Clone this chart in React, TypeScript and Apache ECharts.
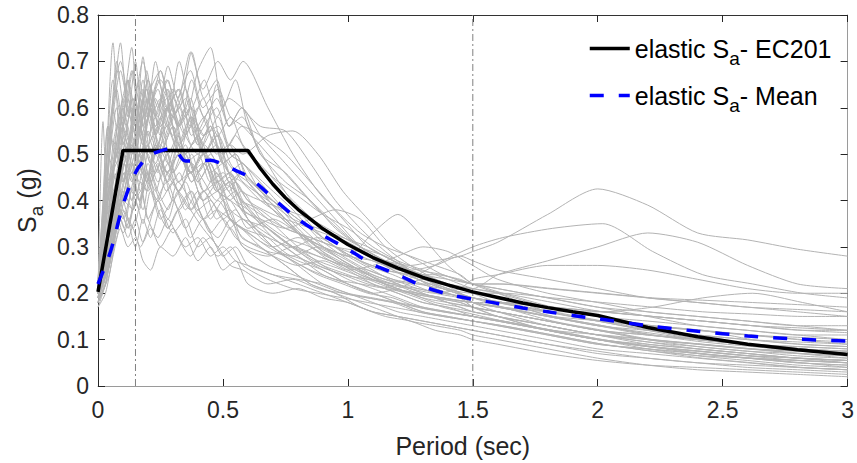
import React, { useEffect, useRef } from "react";
import * as echarts from "echarts";

// Period grids for the recorded spectra (s); records alternate between them
const recordPeriodsA = [0, 0.03, 0.06, 0.09, 0.12, 0.15, 0.18, 0.21, 0.25, 0.3, 0.35, 0.4, 0.45, 0.5, 0.55, 0.6, 0.7, 0.8, 0.9, 1.0, 1.1, 1.2, 1.3, 1.4, 1.5, 1.6, 1.8, 2.0, 2.2, 2.4, 2.6, 2.8, 3.0];
const recordPeriodsB = [0, 0.045, 0.075, 0.105, 0.135, 0.165, 0.195, 0.23, 0.275, 0.325, 0.375, 0.425, 0.475, 0.525, 0.575, 0.65, 0.75, 0.85, 0.95, 1.05, 1.15, 1.25, 1.35, 1.45, 1.5, 1.6, 1.8, 2.0, 2.2, 2.4, 2.6, 2.8, 3.0];
const recordPeriodsC = [0, 0.02, 0.04, 0.075, 0.1, 0.14, 0.17, 0.2, 0.24, 0.28, 0.32, 0.37, 0.42, 0.48, 0.53, 0.58, 0.68, 0.78, 0.88, 0.98, 1.08, 1.18, 1.28, 1.38, 1.5, 1.62, 1.82, 2.02, 2.22, 2.42, 2.62, 2.82, 3.0];
const recordGrids = [recordPeriodsA, recordPeriodsB, recordPeriodsC];

// Individual record spectra Sa (g)
const recordSpectra: number[][] = [
  [0.21, 0.45, 0.74, 0.52, 0.66, 0.48, 0.6, 0.5, 0.58, 0.46, 0.52, 0.44, 0.48, 0.4, 0.42, 0.36, 0.32, 0.28, 0.24, 0.22, 0.2, 0.18, 0.16, 0.15, 0.14, 0.13, 0.11, 0.09, 0.08, 0.07, 0.06, 0.05, 0.045],
  [0.19, 0.35, 0.55, 0.62, 0.73, 0.55, 0.68, 0.58, 0.64, 0.56, 0.6, 0.5, 0.55, 0.46, 0.44, 0.4, 0.36, 0.3, 0.27, 0.25, 0.22, 0.2, 0.18, 0.17, 0.16, 0.15, 0.12, 0.1, 0.085, 0.075, 0.065, 0.06, 0.055],
  [0.22, 0.3, 0.42, 0.5, 0.56, 0.62, 0.58, 0.66, 0.6, 0.69, 0.62, 0.72, 0.64, 0.7, 0.66, 0.7, 0.6, 0.5, 0.42, 0.36, 0.3, 0.27, 0.24, 0.21, 0.19, 0.17, 0.14, 0.12, 0.1, 0.09, 0.08, 0.07, 0.065],
  [0.17, 0.2, 0.28, 0.34, 0.3, 0.32, 0.27, 0.25, 0.3, 0.28, 0.32, 0.27, 0.3, 0.25, 0.27, 0.22, 0.2, 0.21, 0.19, 0.18, 0.16, 0.15, 0.14, 0.13, 0.12, 0.11, 0.09, 0.07, 0.06, 0.05, 0.04, 0.035, 0.03],
  [0.2, 0.28, 0.4, 0.46, 0.42, 0.5, 0.44, 0.52, 0.46, 0.5, 0.44, 0.48, 0.42, 0.45, 0.4, 0.38, 0.34, 0.32, 0.3, 0.29, 0.27, 0.26, 0.27, 0.28, 0.29, 0.31, 0.37, 0.425, 0.39, 0.33, 0.315, 0.295, 0.28],
  [0.2, 0.32, 0.5, 0.44, 0.6, 0.5, 0.56, 0.46, 0.52, 0.48, 0.54, 0.46, 0.5, 0.42, 0.4, 0.36, 0.32, 0.28, 0.3, 0.27, 0.24, 0.22, 0.24, 0.27, 0.3, 0.32, 0.34, 0.35, 0.29, 0.24, 0.22, 0.2, 0.19],
  [0.21, 0.3, 0.46, 0.56, 0.5, 0.62, 0.54, 0.6, 0.5, 0.56, 0.48, 0.5, 0.44, 0.46, 0.4, 0.36, 0.3, 0.27, 0.25, 0.22, 0.2, 0.21, 0.23, 0.22, 0.21, 0.24, 0.27, 0.3, 0.33, 0.31, 0.26, 0.22, 0.21],
  [0.2, 0.26, 0.38, 0.48, 0.44, 0.56, 0.5, 0.62, 0.56, 0.7, 0.6, 0.66, 0.58, 0.62, 0.6, 0.56, 0.55, 0.48, 0.4, 0.34, 0.29, 0.25, 0.22, 0.2, 0.18, 0.16, 0.13, 0.11, 0.09, 0.08, 0.07, 0.06, 0.05],
  [0.19, 0.24, 0.3, 0.36, 0.4, 0.38, 0.44, 0.42, 0.48, 0.44, 0.5, 0.46, 0.5, 0.48, 0.52, 0.5, 0.54, 0.55, 0.5, 0.42, 0.36, 0.3, 0.27, 0.24, 0.22, 0.2, 0.17, 0.15, 0.13, 0.12, 0.1, 0.09, 0.085],
  [0.18, 0.22, 0.3, 0.38, 0.34, 0.42, 0.38, 0.46, 0.4, 0.44, 0.38, 0.42, 0.36, 0.4, 0.35, 0.33, 0.3, 0.32, 0.3, 0.28, 0.33, 0.37, 0.32, 0.26, 0.22, 0.2, 0.16, 0.14, 0.12, 0.1, 0.09, 0.08, 0.075],
  [0.2, 0.27, 0.36, 0.44, 0.52, 0.46, 0.55, 0.5, 0.6, 0.52, 0.56, 0.5, 0.54, 0.46, 0.48, 0.42, 0.38, 0.34, 0.3, 0.27, 0.25, 0.24, 0.22, 0.2, 0.19, 0.18, 0.16, 0.14, 0.13, 0.12, 0.11, 0.105, 0.1],
  [0.18, 0.22, 0.3, 0.36, 0.42, 0.38, 0.44, 0.36, 0.4, 0.34, 0.38, 0.32, 0.36, 0.3, 0.34, 0.3, 0.26, 0.24, 0.22, 0.2, 0.19, 0.18, 0.17, 0.16, 0.15, 0.14, 0.12, 0.1, 0.085, 0.07, 0.06, 0.05, 0.04],
  [0.22, 0.4, 0.6, 0.5, 0.66, 0.56, 0.71, 0.6, 0.68, 0.58, 0.64, 0.55, 0.6, 0.5, 0.46, 0.44, 0.38, 0.33, 0.28, 0.25, 0.22, 0.2, 0.18, 0.17, 0.15, 0.14, 0.12, 0.1, 0.085, 0.075, 0.065, 0.055, 0.05],
  [0.2, 0.3, 0.44, 0.52, 0.6, 0.54, 0.62, 0.56, 0.66, 0.6, 0.72, 0.62, 0.66, 0.56, 0.58, 0.5, 0.44, 0.4, 0.34, 0.3, 0.27, 0.24, 0.21, 0.19, 0.17, 0.16, 0.14, 0.12, 0.11, 0.1, 0.09, 0.08, 0.075],
  [0.21, 0.28, 0.38, 0.46, 0.4, 0.48, 0.42, 0.5, 0.44, 0.48, 0.42, 0.46, 0.4, 0.44, 0.38, 0.36, 0.34, 0.3, 0.28, 0.26, 0.25, 0.23, 0.22, 0.21, 0.2, 0.2, 0.19, 0.18, 0.17, 0.16, 0.155, 0.15, 0.15],
  [0.17, 0.22, 0.32, 0.38, 0.34, 0.4, 0.35, 0.42, 0.36, 0.4, 0.34, 0.38, 0.33, 0.36, 0.32, 0.3, 0.28, 0.26, 0.27, 0.25, 0.26, 0.28, 0.3, 0.29, 0.26, 0.23, 0.2, 0.18, 0.16, 0.15, 0.14, 0.13, 0.13],
  [0.23, 0.5, 0.7, 0.6, 0.68, 0.58, 0.64, 0.54, 0.6, 0.5, 0.48, 0.42, 0.44, 0.36, 0.34, 0.3, 0.26, 0.22, 0.2, 0.17, 0.15, 0.14, 0.12, 0.11, 0.1, 0.09, 0.07, 0.055, 0.045, 0.04, 0.035, 0.03, 0.025],
  [0.2, 0.3, 0.42, 0.5, 0.58, 0.5, 0.56, 0.62, 0.52, 0.6, 0.52, 0.58, 0.5, 0.54, 0.48, 0.44, 0.4, 0.36, 0.34, 0.32, 0.3, 0.27, 0.25, 0.24, 0.22, 0.22, 0.21, 0.2, 0.19, 0.185, 0.18, 0.175, 0.17],
  [0.19, 0.24, 0.34, 0.42, 0.36, 0.3, 0.36, 0.32, 0.38, 0.33, 0.36, 0.3, 0.32, 0.28, 0.3, 0.26, 0.24, 0.22, 0.2, 0.18, 0.16, 0.15, 0.14, 0.13, 0.12, 0.11, 0.09, 0.075, 0.06, 0.05, 0.045, 0.04, 0.035],
  [0.2, 0.26, 0.36, 0.42, 0.48, 0.44, 0.52, 0.48, 0.56, 0.5, 0.58, 0.54, 0.65, 0.56, 0.6, 0.5, 0.46, 0.4, 0.35, 0.3, 0.28, 0.25, 0.22, 0.2, 0.18, 0.17, 0.15, 0.13, 0.11, 0.1, 0.09, 0.085, 0.08],
  [0.2, 0.57, 0.4, 0.5, 0.44, 0.56, 0.48, 0.52, 0.46, 0.5, 0.44, 0.46, 0.4, 0.42, 0.36, 0.34, 0.3, 0.27, 0.24, 0.22, 0.2, 0.19, 0.17, 0.16, 0.15, 0.14, 0.12, 0.11, 0.1, 0.09, 0.08, 0.075, 0.07],
  [0.21, 0.34, 0.5, 0.58, 0.52, 0.6, 0.56, 0.64, 0.68, 0.58, 0.62, 0.52, 0.56, 0.48, 0.5, 0.44, 0.38, 0.33, 0.3, 0.27, 0.24, 0.22, 0.2, 0.18, 0.17, 0.16, 0.14, 0.12, 0.1, 0.09, 0.08, 0.07, 0.06],
  [0.2, 0.26, 0.36, 0.42, 0.48, 0.4, 0.46, 0.42, 0.5, 0.44, 0.5, 0.42, 0.46, 0.4, 0.42, 0.36, 0.32, 0.3, 0.27, 0.24, 0.22, 0.21, 0.2, 0.21, 0.23, 0.24, 0.26, 0.26, 0.25, 0.23, 0.21, 0.2, 0.2],
  [0.18, 0.21, 0.26, 0.32, 0.38, 0.34, 0.3, 0.34, 0.4, 0.36, 0.42, 0.38, 0.34, 0.3, 0.26, 0.25, 0.22, 0.23, 0.21, 0.2, 0.19, 0.18, 0.16, 0.15, 0.14, 0.13, 0.11, 0.09, 0.075, 0.065, 0.06, 0.055, 0.05],
  [0.21, 0.3, 0.46, 0.54, 0.5, 0.58, 0.52, 0.6, 0.56, 0.64, 0.58, 0.68, 0.73, 0.6, 0.66, 0.56, 0.46, 0.38, 0.32, 0.28, 0.25, 0.22, 0.2, 0.18, 0.16, 0.15, 0.13, 0.11, 0.095, 0.085, 0.075, 0.07, 0.065],
  [0.19, 0.26, 0.38, 0.46, 0.4, 0.5, 0.44, 0.52, 0.46, 0.5, 0.44, 0.48, 0.42, 0.44, 0.38, 0.36, 0.34, 0.36, 0.38, 0.36, 0.3, 0.26, 0.23, 0.2, 0.18, 0.17, 0.15, 0.13, 0.12, 0.11, 0.1, 0.095, 0.09],
  [0.2, 0.28, 0.4, 0.48, 0.44, 0.52, 0.48, 0.55, 0.5, 0.46, 0.52, 0.46, 0.48, 0.42, 0.4, 0.38, 0.34, 0.3, 0.26, 0.24, 0.22, 0.21, 0.2, 0.19, 0.18, 0.18, 0.17, 0.16, 0.15, 0.14, 0.13, 0.125, 0.12],
  [0.22, 0.42, 0.6, 0.74, 0.58, 0.7, 0.56, 0.64, 0.54, 0.6, 0.5, 0.54, 0.46, 0.48, 0.42, 0.38, 0.32, 0.28, 0.25, 0.22, 0.2, 0.18, 0.16, 0.15, 0.14, 0.13, 0.11, 0.09, 0.08, 0.07, 0.06, 0.055, 0.05],
  [0.19, 0.3, 0.42, 0.48, 0.4, 0.46, 0.42, 0.48, 0.42, 0.46, 0.38, 0.42, 0.36, 0.38, 0.32, 0.3, 0.26, 0.22, 0.2, 0.18, 0.16, 0.14, 0.13, 0.12, 0.11, 0.1, 0.08, 0.06, 0.045, 0.035, 0.03, 0.025, 0.02],
  [0.2, 0.3, 0.44, 0.5, 0.56, 0.5, 0.58, 0.52, 0.56, 0.5, 0.54, 0.46, 0.5, 0.44, 0.46, 0.4, 0.34, 0.3, 0.27, 0.25, 0.23, 0.21, 0.2, 0.19, 0.18, 0.17, 0.16, 0.16, 0.17, 0.19, 0.2, 0.18, 0.16],
  [0.2, 0.3, 0.48, 0.56, 0.62, 0.56, 0.66, 0.58, 0.62, 0.54, 0.6, 0.52, 0.56, 0.48, 0.5, 0.45, 0.4, 0.34, 0.29, 0.26, 0.23, 0.21, 0.19, 0.18, 0.17, 0.15, 0.13, 0.11, 0.1, 0.09, 0.08, 0.075, 0.07],
  [0.18, 0.24, 0.34, 0.4, 0.46, 0.4, 0.44, 0.5, 0.44, 0.52, 0.46, 0.5, 0.44, 0.46, 0.42, 0.4, 0.38, 0.36, 0.33, 0.3, 0.27, 0.25, 0.23, 0.21, 0.2, 0.18, 0.16, 0.14, 0.12, 0.11, 0.1, 0.09, 0.085],
  [0.21, 0.36, 0.52, 0.64, 0.56, 0.68, 0.6, 0.66, 0.58, 0.64, 0.56, 0.6, 0.54, 0.56, 0.5, 0.48, 0.42, 0.36, 0.31, 0.27, 0.24, 0.21, 0.19, 0.17, 0.155, 0.14, 0.12, 0.1, 0.085, 0.075, 0.065, 0.06, 0.055],
  [0.19, 0.25, 0.34, 0.44, 0.5, 0.44, 0.5, 0.44, 0.48, 0.4, 0.44, 0.38, 0.4, 0.36, 0.38, 0.34, 0.36, 0.33, 0.3, 0.28, 0.27, 0.25, 0.24, 0.22, 0.2, 0.19, 0.17, 0.15, 0.14, 0.13, 0.12, 0.11, 0.11],
  [0.2, 0.33, 0.46, 0.54, 0.48, 0.58, 0.64, 0.56, 0.6, 0.52, 0.58, 0.5, 0.52, 0.44, 0.46, 0.42, 0.36, 0.31, 0.28, 0.25, 0.23, 0.22, 0.2, 0.19, 0.18, 0.17, 0.15, 0.13, 0.115, 0.1, 0.09, 0.08, 0.075],
  [0.22, 0.38, 0.56, 0.48, 0.6, 0.52, 0.62, 0.54, 0.6, 0.66, 0.56, 0.62, 0.52, 0.58, 0.5, 0.48, 0.43, 0.38, 0.32, 0.28, 0.25, 0.23, 0.21, 0.2, 0.19, 0.18, 0.16, 0.14, 0.12, 0.1, 0.09, 0.08, 0.07],
  [0.19, 0.26, 0.4, 0.46, 0.52, 0.46, 0.54, 0.48, 0.52, 0.46, 0.5, 0.44, 0.48, 0.42, 0.44, 0.4, 0.37, 0.35, 0.33, 0.31, 0.28, 0.26, 0.24, 0.23, 0.22, 0.21, 0.19, 0.17, 0.15, 0.13, 0.12, 0.11, 0.1],
  [0.2, 0.28, 0.38, 0.34, 0.42, 0.38, 0.46, 0.4, 0.44, 0.38, 0.42, 0.36, 0.38, 0.34, 0.36, 0.32, 0.28, 0.25, 0.23, 0.22, 0.21, 0.2, 0.19, 0.18, 0.17, 0.16, 0.14, 0.12, 0.1, 0.085, 0.075, 0.065, 0.06],
  [0.21, 0.32, 0.46, 0.6, 0.52, 0.62, 0.54, 0.58, 0.66, 0.6, 0.64, 0.56, 0.62, 0.54, 0.58, 0.52, 0.46, 0.4, 0.35, 0.31, 0.28, 0.25, 0.23, 0.21, 0.19, 0.18, 0.15, 0.13, 0.11, 0.1, 0.09, 0.08, 0.07],
  [0.18, 0.22, 0.3, 0.36, 0.32, 0.36, 0.31, 0.34, 0.3, 0.34, 0.3, 0.32, 0.28, 0.3, 0.27, 0.26, 0.24, 0.23, 0.22, 0.2, 0.19, 0.18, 0.17, 0.16, 0.15, 0.14, 0.12, 0.1, 0.085, 0.07, 0.06, 0.05, 0.045],
  [0.2, 0.34, 0.5, 0.44, 0.58, 0.66, 0.58, 0.7, 0.6, 0.64, 0.54, 0.58, 0.5, 0.52, 0.46, 0.42, 0.36, 0.31, 0.27, 0.24, 0.22, 0.2, 0.19, 0.18, 0.17, 0.16, 0.14, 0.12, 0.11, 0.1, 0.09, 0.085, 0.08],
  [0.19, 0.28, 0.44, 0.38, 0.5, 0.44, 0.4, 0.48, 0.42, 0.38, 0.44, 0.4, 0.36, 0.4, 0.36, 0.32, 0.29, 0.28, 0.26, 0.24, 0.23, 0.22, 0.2, 0.19, 0.18, 0.17, 0.15, 0.14, 0.13, 0.12, 0.11, 0.1, 0.095],
  [0.22, 0.44, 0.66, 0.58, 0.52, 0.62, 0.7, 0.62, 0.56, 0.62, 0.54, 0.5, 0.56, 0.48, 0.44, 0.4, 0.35, 0.3, 0.26, 0.23, 0.21, 0.19, 0.17, 0.16, 0.15, 0.14, 0.12, 0.1, 0.09, 0.08, 0.07, 0.06, 0.055],
  [0.2, 0.26, 0.34, 0.42, 0.5, 0.56, 0.5, 0.46, 0.54, 0.6, 0.52, 0.56, 0.6, 0.52, 0.56, 0.54, 0.5, 0.44, 0.38, 0.33, 0.3, 0.28, 0.26, 0.24, 0.22, 0.21, 0.19, 0.17, 0.16, 0.15, 0.14, 0.13, 0.12],
  [0.18, 0.24, 0.36, 0.44, 0.38, 0.34, 0.4, 0.46, 0.38, 0.34, 0.38, 0.42, 0.36, 0.32, 0.36, 0.3, 0.28, 0.3, 0.28, 0.26, 0.24, 0.22, 0.21, 0.2, 0.19, 0.18, 0.17, 0.16, 0.15, 0.14, 0.13, 0.12, 0.115],
  [0.21, 0.38, 0.58, 0.68, 0.6, 0.54, 0.62, 0.56, 0.5, 0.56, 0.5, 0.46, 0.5, 0.44, 0.4, 0.38, 0.33, 0.29, 0.26, 0.24, 0.22, 0.2, 0.18, 0.17, 0.16, 0.15, 0.13, 0.11, 0.095, 0.08, 0.07, 0.06, 0.055],
  [0.2, 0.3, 0.42, 0.5, 0.46, 0.54, 0.6, 0.54, 0.62, 0.56, 0.66, 0.58, 0.62, 0.56, 0.6, 0.54, 0.48, 0.42, 0.36, 0.3, 0.26, 0.23, 0.21, 0.19, 0.17, 0.15, 0.12, 0.1, 0.08, 0.065, 0.055, 0.045, 0.04],
  [0.19, 0.25, 0.33, 0.4, 0.36, 0.44, 0.5, 0.44, 0.4, 0.46, 0.42, 0.38, 0.42, 0.38, 0.36, 0.34, 0.32, 0.3, 0.32, 0.29, 0.26, 0.24, 0.22, 0.22, 0.21, 0.2, 0.18, 0.16, 0.15, 0.14, 0.13, 0.12, 0.12],
  [0.23, 0.46, 0.62, 0.7, 0.62, 0.56, 0.64, 0.58, 0.52, 0.58, 0.5, 0.54, 0.48, 0.44, 0.42, 0.36, 0.3, 0.26, 0.22, 0.2, 0.18, 0.16, 0.15, 0.14, 0.13, 0.12, 0.1, 0.08, 0.07, 0.06, 0.05, 0.04, 0.035],
  [0.2, 0.27, 0.37, 0.45, 0.52, 0.48, 0.44, 0.5, 0.56, 0.5, 0.46, 0.52, 0.48, 0.42, 0.46, 0.42, 0.38, 0.34, 0.3, 0.27, 0.25, 0.24, 0.24, 0.23, 0.22, 0.22, 0.21, 0.2, 0.19, 0.18, 0.17, 0.16, 0.15],
  [0.18, 0.23, 0.31, 0.37, 0.33, 0.38, 0.42, 0.36, 0.32, 0.36, 0.32, 0.28, 0.32, 0.28, 0.3, 0.26, 0.23, 0.21, 0.2, 0.19, 0.18, 0.17, 0.16, 0.15, 0.14, 0.13, 0.11, 0.09, 0.075, 0.06, 0.05, 0.04, 0.035],
  [0.21, 0.35, 0.52, 0.6, 0.66, 0.58, 0.52, 0.6, 0.66, 0.6, 0.54, 0.6, 0.54, 0.5, 0.54, 0.5, 0.45, 0.41, 0.37, 0.34, 0.3, 0.27, 0.25, 0.23, 0.21, 0.2, 0.17, 0.15, 0.13, 0.12, 0.11, 0.1, 0.09],
  [0.2, 0.29, 0.4, 0.48, 0.54, 0.48, 0.44, 0.52, 0.46, 0.42, 0.48, 0.44, 0.4, 0.44, 0.4, 0.37, 0.34, 0.32, 0.3, 0.28, 0.26, 0.25, 0.26, 0.28, 0.27, 0.25, 0.23, 0.21, 0.19, 0.18, 0.17, 0.165, 0.16],
  [0.22, 0.4, 0.56, 0.5, 0.62, 0.56, 0.5, 0.58, 0.64, 0.56, 0.62, 0.68, 0.6, 0.64, 0.58, 0.56, 0.5, 0.44, 0.38, 0.33, 0.29, 0.26, 0.23, 0.21, 0.19, 0.18, 0.15, 0.13, 0.11, 0.095, 0.085, 0.075, 0.07],
];

// EC8 elastic design spectrum
const ec8Periods = [0, 0.1, 0.6, 0.65, 0.7, 0.75, 0.8, 0.9, 1.0, 1.1, 1.2, 1.3, 1.4, 1.5, 1.6, 1.7, 1.8, 1.9, 2.0, 2.2, 2.4, 2.6, 2.8, 3.0];
const ec8Values = [0.203, 0.508, 0.508, 0.469, 0.435, 0.406, 0.381, 0.339, 0.305, 0.277, 0.254, 0.234, 0.218, 0.203, 0.191, 0.179, 0.169, 0.16, 0.152, 0.126, 0.106, 0.09, 0.078, 0.068];

// Mean of the record spectra
const meanPeriods = [0, 0.05, 0.1, 0.15, 0.2, 0.25, 0.3, 0.35, 0.4, 0.45, 0.5, 0.55, 0.6, 0.65, 0.7, 0.8, 0.9, 1.0, 1.1, 1.2, 1.3, 1.4, 1.5, 1.6, 1.7, 1.8, 1.9, 2.0, 2.2, 2.4, 2.6, 2.8, 3.0];
const meanValues = [0.22, 0.29, 0.39, 0.46, 0.495, 0.507, 0.513, 0.485, 0.485, 0.487, 0.478, 0.465, 0.452, 0.43, 0.405, 0.36, 0.325, 0.295, 0.262, 0.24, 0.215, 0.198, 0.187, 0.178, 0.168, 0.16, 0.152, 0.145, 0.13, 0.118, 0.108, 0.101, 0.097];

// Vertical reference periods (dash-dot)
const referencePeriods = [0.15, 1.5];

const legendLabels: Record<string, string> = {
  EC8: "{n|elastic S}{sub|a}{n|- EC201}",
  Mean: "{n|elastic S}{sub|a}{n|- Mean}",
};

const FONT = '"Liberation Sans", Arial, Helvetica, sans-serif';
const TXT = "#262626";

export default function App() {
  const ref = useRef<HTMLDivElement>(null);
  useEffect(() => {
    if (!ref.current) return;
    const chart = echarts.init(ref.current, null, { renderer: "svg" });

    const graySeries = recordSpectra.map((vals, i) => {
      const grid = recordGrids[i % 3];
      return {
        type: "line",
        data: grid.map((p, j) => [p, vals[j]]),
        symbol: "none",
        smooth: 0.25,
        silent: true,
        lineStyle: { color: "#b3b3b3", width: 1 },
        z: 1,
      };
    });

    const refSeries = referencePeriods.map((p) => ({
      type: "line",
      data: [
        [p, 0],
        [p, 0.8],
      ],
      symbol: "none",
      silent: true,
      lineStyle: { color: "#808080", width: 1, type: [7, 3, 2, 3] },
      z: 2,
    }));

    const tickStyle = { show: true, inside: true, length: 7, lineStyle: { color: TXT, width: 1 } };

    const option: any = {
      animation: false,
      backgroundColor: "#ffffff",
      grid: { left: 98, right: 9, top: 15, bottom: 72, containLabel: false },
      legend: {
        data: ["EC8", "Mean"],
        orient: "vertical",
        left: 588,
        top: 36,
        padding: 0,
        itemGap: 15,
        itemWidth: 40,
        itemHeight: 14,
        selectedMode: false,
        itemStyle: { opacity: 0 },
        lineStyle: { width: 3.5 },
        formatter: (n: string) => legendLabels[n],
        textStyle: {
          fontFamily: FONT,
          color: "#000",
          rich: {
            n: { fontFamily: FONT, fontSize: 25, lineHeight: 25, verticalAlign: "top", color: "#000" },
            sub: { fontFamily: FONT, fontSize: 19, lineHeight: 19, verticalAlign: "top", padding: [13, 0, 0, 0], color: "#000" },
          },
        },
      },
      xAxis: [
        {
          type: "value",
          min: 0,
          max: 3,
          interval: 0.5,
          position: "bottom",
          axisLine: { show: true, onZero: false, lineStyle: { color: "#9a9a9a", width: 1 } },
          axisTick: tickStyle,
          axisLabel: { show: true, margin: 12, fontSize: 23, color: TXT, fontFamily: FONT },
          splitLine: { show: false },
          name: "Period (sec)",
          nameLocation: "middle",
          nameGap: 47,
          nameTextStyle: { fontSize: 25, color: TXT, fontFamily: FONT, padding: [0, 20, 0, 0] },
        },
        {
          type: "value",
          min: 0,
          max: 3,
          interval: 0.5,
          position: "top",
          axisLine: { show: true, onZero: false, lineStyle: { color: "#333333", width: 1 } },
          axisTick: tickStyle,
          axisLabel: { show: false },
          splitLine: { show: false },
        },
      ],
      yAxis: [
        {
          type: "value",
          min: 0,
          max: 0.8,
          interval: 0.1,
          position: "left",
          axisLine: { show: true, onZero: false, lineStyle: { color: "#262626", width: 1 } },
          axisTick: tickStyle,
          axisLabel: {
            show: true,
            margin: 9,
            fontSize: 23,
            color: TXT,
            fontFamily: FONT,
            formatter: (v: number) => (v === 0 ? "0" : v.toFixed(1)),
          },
          splitLine: { show: false },
          name: "{n|S}{sub|a}{n| (g)}",
          nameLocation: "middle",
          nameGap: 56,
          nameTextStyle: {
            fontFamily: FONT,
            color: TXT,
            rich: {
              n: { fontFamily: FONT, fontSize: 25, lineHeight: 25, verticalAlign: "top", color: TXT },
              sub: { fontFamily: FONT, fontSize: 19, lineHeight: 19, verticalAlign: "top", padding: [13, 0, 0, 0], color: TXT },
            },
          },
        },
        {
          type: "value",
          min: 0,
          max: 0.8,
          interval: 0.1,
          position: "right",
          axisLine: { show: true, onZero: false, lineStyle: { color: "#9a9a9a", width: 1 } },
          axisTick: tickStyle,
          axisLabel: { show: false },
          splitLine: { show: false },
        },
      ],
      series: [
        ...graySeries,
        ...refSeries,
        {
          name: "EC8",
          type: "line",
          data: ec8Periods.map((p, i) => [p, ec8Values[i]]),
          symbol: "none",
          smooth: false,
          itemStyle: { color: "#000000" },
          lineStyle: { color: "#000000", width: 3.5 },
          z: 3,
        },
        {
          name: "Mean",
          type: "line",
          data: meanPeriods.map((p, i) => [p, meanValues[i]]),
          symbol: "none",
          smooth: 0.3,
          itemStyle: { color: "#0000ff" },
          lineStyle: { color: "#0000ff", width: 3.5, type: [14, 15] },
          z: 4,
        },
      ],
    };

    chart.setOption(option);
    return () => chart.dispose();
  }, []);

  return (
    <div
      ref={ref}
      style={{ position: "fixed", left: 0, top: 0, width: 857, height: 463, background: "#fff" }}
    />
  );
}
